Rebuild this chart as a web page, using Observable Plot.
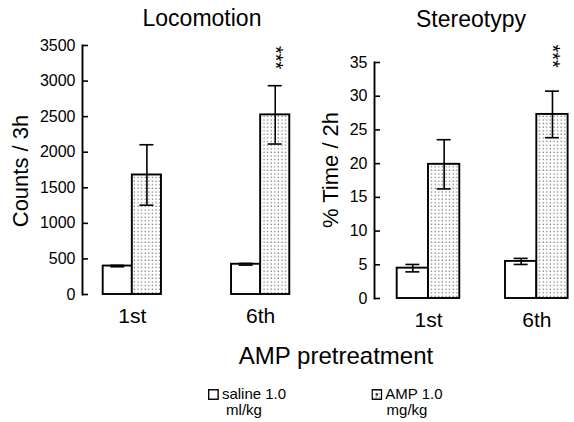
<!DOCTYPE html>
<html>
<head>
<meta charset="utf-8">
<script src="https://cdn.jsdelivr.net/npm/d3@7"></script>
<script src="https://cdn.jsdelivr.net/npm/@observablehq/plot@0.6"></script>
<style>
  html, body { margin: 0; padding: 0; background: white; }
  #stage { position: relative; width: 574px; height: 422px; overflow: hidden; font-family: "Liberation Sans", Arial, sans-serif; color: black; }
  .abs { position: absolute; white-space: nowrap; }
  .title { font-size: 23px; line-height: 23px; transform: translateX(-50%); }
  .ylab { font-size: 22px; line-height: 22px; transform: translate(-50%, -50%) rotate(-90deg); }
  .legend { font-size: 15px; line-height: 15px; text-align: center; transform: translateX(-50%); }
  .legend svg { vertical-align: -1px; margin-right: 3px; }
</style>
</head>
<body>
<div id="stage">
  <svg width="0" height="0" style="position:absolute">
    <defs>
      <pattern id="dots" width="3.6" height="3.6" patternUnits="userSpaceOnUse">
        <rect width="3.6" height="3.6" fill="white"></rect>
        <circle cx="1.2" cy="1.2" r="0.7" fill="#606060"></circle>
      </pattern>
    </defs>
  </svg>
  <div id="left" class="abs" style="left:0;top:0;width:290px;height:340px"></div>
  <div id="right" class="abs" style="left:290px;top:0;width:284px;height:340px"></div>
  <div class="abs title" style="left:202px;top:7px">Locomotion</div>
  <div class="abs title" style="left:471px;top:8px">Stereotypy</div>
  <div class="abs ylab" style="left:21px;top:171px">Counts / 3h</div>
  <div class="abs ylab" style="left:331px;top:170px">% Time / 2h</div>
  <div class="abs" style="left:336px;top:344px;font-size:24px;line-height:24px;transform:translateX(-50%)">AMP pretreatment</div>
  <div class="abs legend" style="left:247px;top:386px"><svg width="11" height="11"><rect x="0.75" y="0.75" width="9.5" height="9.5" fill="white" stroke="black" stroke-width="1.4"></rect></svg>saline 1.0</div>
  <div class="abs legend" style="left:244px;top:402px">ml/kg</div>
  <div class="abs legend" style="left:407px;top:386px"><svg width="11" height="11"><rect x="0.75" y="0.75" width="9.5" height="9.5" fill="url(#dots)" stroke="black" stroke-width="1.4"></rect><rect x="4.3" y="4.3" width="2.4" height="2.4" fill="#333"></rect></svg>AMP 1.0</div>
  <div class="abs legend" style="left:407px;top:402px">mg/kg</div>
</div>
<script>
// ---- data ----
const sessions = ["1st", "6th"];
const locoSaline = [400, 425];
const locoSalineSem = [10, 12];
const locoAmp = [1680, 2525];
const locoAmpSem = [425, 410];
const stereoSaline = [4.5, 5.5];
const stereoSalineSem = [0.55, 0.45];
const stereoAmp = [19.9, 27.3];
const stereoAmpSem = [3.65, 3.45];
const ampSig = ["", "***"];
const locoTicks = [0, 500, 1000, 1500, 2000, 2500, 3000, 3500];
const stereoTicks = [0, 5, 10, 15, 20, 25, 30, 35];

function makeRows(vals, sems, sig) {
  return sessions.map((s, i) => ({session: s, value: vals[i], sem: sems[i], sig: sig ? sig[i] : ""}));
}

function panel(opts) {
  const {saline, amp, yDomain, yTicks, width, height, marginLeft, marginRight, marginTop, marginBottom, pI, pO, align, starDy} = opts;
  const frameW = width - marginLeft - marginRight;
  const step = frameW / (sessions.length - pI + 2 * pO);
  const bw = step * (1 - pI);
  const half = bw / 2, q = bw / 4, cap = 7;
  const lo = d => d.value - d.sem, hi = d => d.value + d.sem;
  return Plot.plot({
    width, height, marginLeft, marginRight, marginTop, marginBottom,
    style: {fontFamily: "'Liberation Sans', Arial, sans-serif", fontSize: "16px", color: "black", background: "transparent", overflow: "visible"},
    x: {domain: sessions, paddingInner: pI, paddingOuter: pO, align, round: false, label: null},
    y: {domain: yDomain, label: null},
    marks: [
      Plot.barY(saline, {x: "session", y: "value", fill: "white", stroke: "black", strokeWidth: 1.9, insetRight: half}),
      Plot.barY(amp, {x: "session", y: "value", fill: "url(#dots)", stroke: "black", strokeWidth: 1.9, insetLeft: half}),
      Plot.ruleX(saline, {x: "session", y1: lo, y2: hi, dx: -q, stroke: "black", strokeWidth: 1.6}),
      Plot.ruleX(amp, {x: "session", y1: lo, y2: hi, dx: q, stroke: "black", strokeWidth: 1.6}),
      Plot.tickY(saline, {x: "session", y: hi, insetLeft: q - cap, insetRight: bw - q - cap, stroke: "black", strokeWidth: 1.6}),
      Plot.tickY(saline, {x: "session", y: lo, insetLeft: q - cap, insetRight: bw - q - cap, stroke: "black", strokeWidth: 1.6}),
      Plot.tickY(amp, {x: "session", y: hi, insetLeft: bw - q - cap, insetRight: q - cap, stroke: "black", strokeWidth: 1.6}),
      Plot.tickY(amp, {x: "session", y: lo, insetLeft: bw - q - cap, insetRight: q - cap, stroke: "black", strokeWidth: 1.6}),
      Plot.text(amp, {x: "session", y: hi, text: "sig", rotate: 90, dx: q, dy: starDy, fontSize: 20}),
      Plot.frame({anchor: "left", stroke: "black", strokeWidth: 1.9}),
      Plot.axisY({ticks: yTicks, tickSize: -6, tickPadding: 13, tickFormat: d => String(d), label: null, strokeWidth: 1.6}),
      Plot.axisX({tickSize: 0, tickPadding: 14, fontSize: 21, label: null})
    ]
  });
}

document.getElementById("left").appendChild(panel({
  saline: makeRows(locoSaline, locoSalineSem),
  amp: makeRows(locoAmp, locoAmpSem, ampSig),
  yDomain: [0, 3500], yTicks: locoTicks,
  width: 290, height: 340, marginLeft: 82, marginRight: 0, marginTop: 45, marginBottom: 46,
  pI: 0.546, pO: 0.0834, align: 0.967, starDy: -28
}));

document.getElementById("right").appendChild(panel({
  saline: makeRows(stereoSaline, stereoSalineSem),
  amp: makeRows(stereoAmp, stereoAmpSem, ampSig),
  yDomain: [0, 35], yTicks: stereoTicks,
  width: 284, height: 340, marginLeft: 84, marginRight: 2, marginTop: 62, marginBottom: 42,
  pI: 0.422, pO: 0.125, align: 0.838, starDy: -35
}));
</script>
</body>
</html>
